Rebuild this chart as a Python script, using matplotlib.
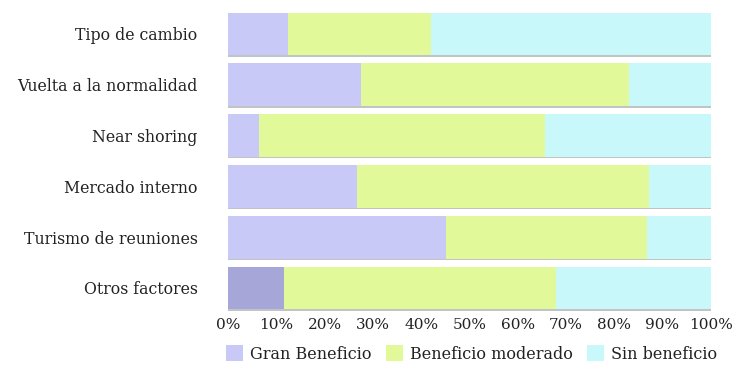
import matplotlib
matplotlib.use("Agg")
import matplotlib.pyplot as plt
from matplotlib.patches import Patch
import numpy as np

# Survey: perceived benefit of each factor (share of respondents, %)
categories = ["Tipo de cambio", "Vuelta a la normalidad", "Near shoring",
              "Mercado interno", "Turismo de reuniones", "Otros factores"]
gran_beneficio = [12.5, 27.5, 6.5, 26.8, 45.2, 11.5]
beneficio_moderado = [29.5, 55.6, 59.2, 60.4, 41.5, 56.4]
sin_beneficio = [58.0, 16.9, 34.3, 12.8, 13.3, 32.1]
series_names = ["Gran Beneficio", "Beneficio moderado", "Sin beneficio"]
tick_values = [0, 10, 20, 30, 40, 50, 60, 70, 80, 90, 100]

c_gran = "#c9c9f7"
c_gran_otros = "#a6a6d8"
c_mod = "#e2f99a"
c_sin = "#c9f8fb"

plt.rcParams["font.family"] = ["DejaVu Serif"]

fig = plt.figure(figsize=(7.42, 3.65), dpi=100)
ax = fig.add_axes([228 / 742, 1 - 313.4 / 365, (710.7 - 228) / 742, 304.8 / 365])

y = np.arange(len(categories))
h = 0.84
g = np.array(gran_beneficio)
m = np.array(beneficio_moderado)
s = np.array(sin_beneficio)
total = g + m + s

# soft shadow line under each bar
ax.barh(y + 0.03, total, height=h, color="#c0c4c4", zorder=1)

gran_colors = [c_gran] * (len(categories) - 1) + [c_gran_otros]
ax.barh(y, g, height=h, color=gran_colors, zorder=2)
ax.barh(y, m, left=g, height=h, color=c_mod, zorder=2)
ax.barh(y, s, left=g + m, height=h, color=c_sin, zorder=2)

ax.set_xlim(0, 100)
ax.set_ylim(len(categories) - 0.5, -0.5)
ax.set_yticks(y)
ax.set_yticklabels(categories, fontsize=11.3, color="#222222")
ax.set_xticks(tick_values)
ax.set_xticklabels([f"{v}%" for v in tick_values], fontsize=11, color="#222222")
ax.tick_params(axis="both", length=0)
ax.tick_params(axis="y", pad=22)
ax.tick_params(axis="x", pad=3)
for sp in ax.spines.values():
    sp.set_visible(False)

handles = [Patch(facecolor=c_gran, edgecolor="none"),
           Patch(facecolor=c_mod, edgecolor="none"),
           Patch(facecolor=c_sin, edgecolor="none")]
fig.legend(handles, series_names, loc="center", ncol=3, frameon=False,
           bbox_to_anchor=(472 / 742, 1 - 354 / 365), fontsize=11.5,
           handlelength=1.05, handleheight=1.1, handletextpad=0.45,
           columnspacing=0.9, labelcolor="#222222")

fig.savefig("out.png", dpi=100, facecolor="white")
